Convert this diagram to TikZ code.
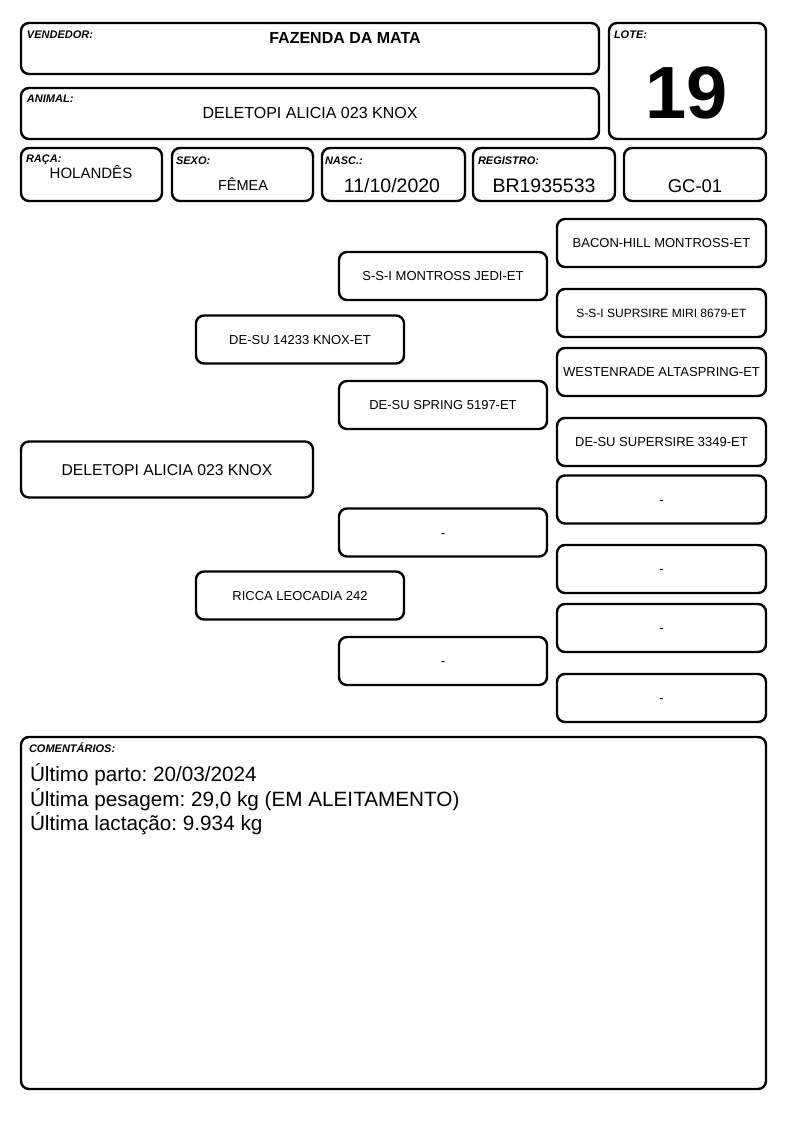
\documentclass[tikz,border=0pt]{standalone}
\usepackage{fontspec}
\setmainfont{Liberation Sans}
\usetikzlibrary{positioning}
\frenchspacing

\tikzset{
  box/.style={draw, line width=2.4pt, rounded corners=8pt, inner sep=0pt},
  pbox/.style={box, minimum width=208pt, minimum height=48pt,
    text height=9.3pt, text depth=0pt,
    font=\fontsize{13}{15}\selectfont},
  lbl/.style={anchor=north west, inner sep=0pt,
    font=\fontsize{11}{13}\selectfont\bfseries\itshape},
  val/.style={inner sep=0pt, font=\fontsize{19.5}{22}\selectfont}
}

\begin{document}
\begin{tikzpicture}[x=1pt, y=-1pt]
    \useasboundingbox (0,0) rectangle (794,1123);

    % Header
    \node[box, minimum width=578pt, minimum height=51pt] (vend) at (310,48.5) {};
    \node[lbl] (vendlbl) at ([shift={(7,9)}]vend.north west) {VENDEDOR:};
    \node[val, font=\fontsize{16}{19}\selectfont\bfseries] (vendval) at (345,38) {FAZENDA DA MATA};

    \node[box, minimum width=157pt, minimum height=116pt] (lote) at (687.5,81) {};
    \node[lbl] (lotelbl) at ([shift={(6,9)}]lote.north west) {LOTE:};
    \node[val, font=\fontsize{74}{80}\selectfont\bfseries] (loteval) at (687,93) {19};

    \node[box, minimum width=578pt, minimum height=51pt] (anim) at (310,113.5) {};
    \node[lbl] (animlbl) at ([shift={(7,8)}]anim.north west) {ANIMAL:};
    \node[val, font=\fontsize{16}{19}\selectfont] (animval) at (310,113) {DELETOPI ALICIA 023 KNOX};

    % Data row
    \node[box, minimum width=141pt, minimum height=53pt] (raca) at (91.5,174.5) {};
    \node[lbl] (racalbl) at ([shift={(6,8)}]raca.north west) {RAÇA:};
    \node[val, font=\fontsize{15}{18}\selectfont] (racaval) at (91,172) {HOLANDÊS};

    \node[box, minimum width=141pt, minimum height=53pt] (sexo) at (242.5,174.5) {};
    \node[lbl] (sexolbl) at ([shift={(5,10)}]sexo.north west) {SEXO:};
    \node[val, font=\fontsize{14.5}{18}\selectfont] (sexoval) at (243,184) {FÊMEA};

    \node[box, minimum width=143pt, minimum height=53pt] (nasc) at (393.5,174.5) {};
    \node[lbl] (nasclbl) at ([shift={(4,10)}]nasc.north west) {NASC.:};
    \node[val] (nascval) at (392,186) {11/10/2020};

    \node[box, minimum width=142pt, minimum height=53pt] (reg) at (544,174.5) {};
    \node[lbl] (reglbl) at ([shift={(6,10)}]reg.north west) {REGISTRO:};
    \node[val] (regval) at (544,186) {BR1935533};

    \node[box, minimum width=142pt, minimum height=53pt] (gc) at (695,174.5) {};
    \node[val, font=\fontsize{18.5}{22}\selectfont] (gcval) at (695,186) {GC-01};

    % Pedigree
    \node[pbox, minimum width=292pt, minimum height=56pt, text height=11.2pt,
      font=\fontsize{15.7}{18}\selectfont] (animal) at (167,469.5) {DELETOPI ALICIA 023 KNOX};

    \node[pbox] (sire) at (300,339.5) {DE-SU 14233 KNOX-ET};
    \node[pbox] (dam) at (300,595.5) {RICCA LEOCADIA 242};

    \node[pbox] (ss) at (443,276) {S-S-I MONTROSS JEDI-ET};
    \node[pbox] (sd) at (443,405) {DE-SU SPRING 5197-ET};
    \node[pbox] (ds) at (443,532.5) {-};
    \node[pbox] (dd) at (443,661) {-};

    \node[pbox, minimum width=209pt] (sss) at (661.5,243) {BACON-HILL MONTROSS-ET};
    \node[pbox, minimum width=209pt, text height=8.6pt,
      font=\fontsize{12}{14}\selectfont] (ssd) at (661.5,313) {S-S-I SUPRSIRE MIRI 8679-ET};
    \node[pbox, minimum width=209pt] (sds) at (661.5,372) {WESTENRADE ALTASPRING-ET};
    \node[pbox, minimum width=209pt] (sdd) at (661.5,442) {DE-SU SUPERSIRE 3349-ET};
    \node[pbox, minimum width=209pt] (dss) at (661.5,499.5) {-};
    \node[pbox, minimum width=209pt] (dsd) at (661.5,569) {-};
    \node[pbox, minimum width=209pt] (dds) at (661.5,628) {-};
    \node[pbox, minimum width=209pt] (ddd) at (661.5,698) {-};

    % Comments
    \node[box, minimum width=745pt, minimum height=352pt] (coment) at (393.5,913) {};
    \node[lbl] (comentlbl) at ([shift={(9,7)}]coment.north west) {COMENTÁRIOS:};
    \node[anchor=north west, inner sep=0pt, align=left,
      font=\fontsize{20.7}{24.5}\selectfont] (comentval) at ([shift={(10,28)}]coment.north west)
      {Último parto: 20/03/2024\\
       Última pesagem: 29,0 kg (EM ALEITAMENTO)\\
       Última lactação: 9.934 kg};
\end{tikzpicture}
\end{document}
